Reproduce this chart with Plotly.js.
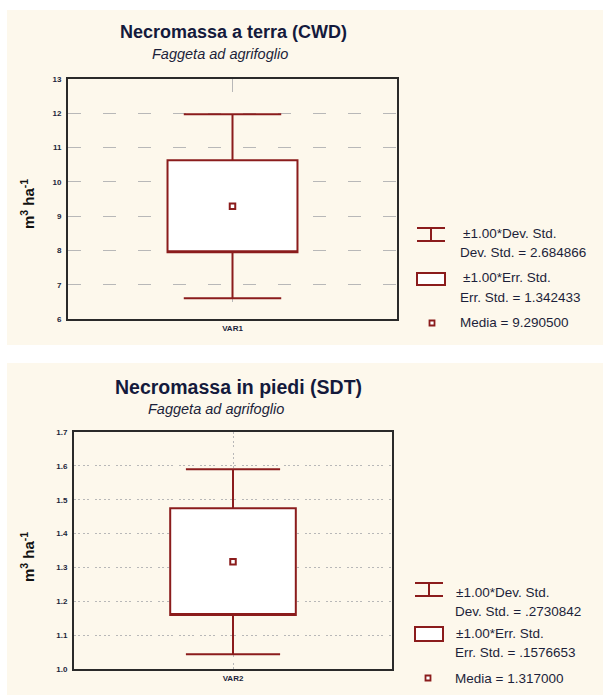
<!DOCTYPE html>
<html>
<head>
<meta charset="utf-8">
<script src="https://cdn.plot.ly/plotly-3.0.1.min.js"></script>
<style>html,body{margin:0;padding:0;background:#fff;}#chart{width:603px;height:695px;}</style>
</head>
<body>
<div id="chart"></div>
<script>
// ---- data ----
const titles = ["Necromassa a terra (CWD)", "Necromassa in piedi (SDT)"];
const subtitles = ["Faggeta ad agrifoglio", "Faggeta ad agrifoglio"];
const variables = ["VAR1", "VAR2"];
const means = [9.290500, 1.317000];
const devStd = [2.684866, 0.2730842];
const errStd = [1.342433, 0.1576653];
const devStdLabels = ["2.684866", ".2730842"];
const errStdLabels = ["1.342433", ".1576653"];
const meanLabels = ["9.290500", "1.317000"];
const yRanges = [[6, 13], [1.0, 1.7]];
const yDticks = [1, 0.1];
const yTickFormats = ["d", ".1f"];

// ---- layout helpers ----
const W = 603, H = 695;
const px = x => x / W;
const py = y => 1 - y / H;
const RED = "#8b1c1c";
const TXT = "#1c1f3a";
const CREAM = "#fdf8ec";

// panel geometry (pixels)
const panels = [
  {bg: [7, 10, 603, 345], plot: [68, 79, 397, 319], title: [233, 32], titleSize: 18, sub: [220, 54], ytitle: [27, 204],
   legend: {ix1: 417, ix2: 445, hTop: 228, hBot: 241, rTop: 273, rBot: 285, sq: [432, 323],
            t1: [461, 233], t2: [458, 252], t3: [461, 277], t4: [458, 297], t5: [458, 323]}},
  {bg: [7, 363, 603, 695], plot: [74, 432, 392, 669], title: [238, 387], titleSize: 19.5, sub: [216, 409], ytitle: [27, 557],
   legend: {ix1: 415, ix2: 443, hTop: 583, hBot: 596, rTop: 627, rBot: 641, sq: [428, 678],
            t1: [454, 592], t2: [453, 611], t3: [454, 633], t4: [453, 652], t5: [453, 678]}}
];

const data = [];
const shapes = [];
const annotations = [];
const layout = {
  width: W, height: H,
  margin: {l: 0, r: 0, t: 0, b: 0},
  paper_bgcolor: "#ffffff",
  plot_bgcolor: "#ffffff",
  showlegend: false,
  font: {family: "Liberation Sans, Arial, sans-serif", color: TXT}
};

panels.forEach((p, i) => {
  const xa = i === 0 ? "x" : "x2";
  const ya = i === 0 ? "y" : "y2";
  const xkey = i === 0 ? "xaxis" : "xaxis2";
  const ykey = i === 0 ? "yaxis" : "yaxis2";
  const dash = i === 0 ? "13px,22px" : "2px,2px,2px,3px,2px,2px,2px,6px";

  layout[xkey] = {
    domain: [px(p.plot[0]), px(p.plot[2])],
    anchor: ya,
    range: [-1, 1],
    tickvals: [0], ticktext: [variables[i]],
    showgrid: true, gridcolor: "#b8b8b8", gridwidth: 1, griddash: dash,
    zeroline: false, ticks: "",
    showline: true, mirror: true, linecolor: "#2a2a2a", linewidth: 2,
    tickfont: {size: 8, color: TXT, weight: "bold"},
    fixedrange: true
  };
  layout[ykey] = {
    domain: [py(p.plot[3]), py(p.plot[1])],
    anchor: xa,
    range: yRanges[i], dtick: yDticks[i], tick0: yRanges[i][0], tickformat: yTickFormats[i],
    showgrid: true, gridcolor: "#b8b8b8", gridwidth: 1, griddash: dash,
    zeroline: false, ticks: "",
    showline: true, mirror: true, linecolor: "#2a2a2a", linewidth: 2,
    tickfont: {size: 8, color: TXT, weight: "bold"},
    ticklabelstandoff: 3,
    fixedrange: true
  };

  // box: mean ± err std, whiskers: mean ± dev std
  data.push({
    type: "box", xaxis: xa, yaxis: ya,
    x: [0],
    q1: [means[i] - errStd[i]],
    median: [means[i] - errStd[i]],
    q3: [means[i] + errStd[i]],
    lowerfence: [means[i] - devStd[i]],
    upperfence: [means[i] + devStd[i]],
    width: 0.79,
    whiskerwidth: 0.75,
    fillcolor: "#ffffff",
    line: {color: RED, width: 2},
    boxpoints: false,
    hoverinfo: "skip"
  });
  // mean marker
  data.push({
    type: "scatter", mode: "markers", xaxis: xa, yaxis: ya,
    x: [0], y: [means[i]],
    marker: {symbol: "square", size: 5.5, color: "#ffffff", line: {color: RED, width: 2}},
    hoverinfo: "skip"
  });

  // cream panel background
  shapes.push({type: "rect", xref: "paper", yref: "paper", layer: "below",
    x0: px(p.bg[0]), x1: px(p.bg[2]), y0: py(p.bg[3]), y1: py(p.bg[1]),
    fillcolor: CREAM, line: {width: 0}});

  // titles
  annotations.push({xref: "paper", yref: "paper", x: px(p.title[0]), y: py(p.title[1]),
    xanchor: "center", yanchor: "middle", showarrow: false,
    text: "<b>" + titles[i] + "</b>", font: {size: p.titleSize, color: "#141a3c"}});
  annotations.push({xref: "paper", yref: "paper", x: px(p.sub[0]), y: py(p.sub[1]),
    xanchor: "center", yanchor: "middle", showarrow: false,
    text: "<i>" + subtitles[i] + "</i>", font: {size: 14.5, color: TXT}});
  // y-axis title
  annotations.push({xref: "paper", yref: "paper", x: px(p.ytitle[0]), y: py(p.ytitle[1]),
    xanchor: "center", yanchor: "middle", showarrow: false, textangle: -90,
    text: "<b>m<sup>3</sup> ha<sup>-1</sup></b>", font: {size: 15, color: "#111"}});

  // legend icons
  const L = p.legend;
  const cx = (L.ix1 + L.ix2) / 2;
  const lineS = {color: RED, width: 2};
  shapes.push({type: "line", xref: "paper", yref: "paper", x0: px(L.ix1), x1: px(L.ix2), y0: py(L.hTop), y1: py(L.hTop), line: lineS});
  shapes.push({type: "line", xref: "paper", yref: "paper", x0: px(L.ix1), x1: px(L.ix2), y0: py(L.hBot), y1: py(L.hBot), line: lineS});
  shapes.push({type: "line", xref: "paper", yref: "paper", x0: px(cx), x1: px(cx), y0: py(L.hTop), y1: py(L.hBot), line: lineS});
  shapes.push({type: "rect", xref: "paper", yref: "paper", x0: px(L.ix1), x1: px(L.ix2), y0: py(L.rBot), y1: py(L.rTop),
    fillcolor: "#ffffff", line: lineS});
  shapes.push({type: "rect", xref: "paper", yref: "paper", x0: px(L.sq[0] - 2.5), x1: px(L.sq[0] + 2.5),
    y0: py(L.sq[1] + 2.5), y1: py(L.sq[1] - 2.5), fillcolor: "#ffffff", line: {color: RED, width: 1.8}});

  const legTexts = [
    [L.t1, "±1.00*Dev. Std."],
    [L.t2, "Dev. Std. = " + devStdLabels[i]],
    [L.t3, "±1.00*Err. Std."],
    [L.t4, "Err. Std. = " + errStdLabels[i]],
    [L.t5, "Media = " + meanLabels[i]]
  ];
  legTexts.forEach(([pos, t]) => {
    annotations.push({xref: "paper", yref: "paper", x: px(pos[0]), y: py(pos[1]),
      xanchor: "left", yanchor: "middle", showarrow: false,
      text: t, font: {size: 13.5, color: TXT}});
  });
});

layout.shapes = shapes;
layout.annotations = annotations;

Plotly.newPlot("chart", data, layout, {displayModeBar: false, staticPlot: true});
</script>
</body>
</html>
